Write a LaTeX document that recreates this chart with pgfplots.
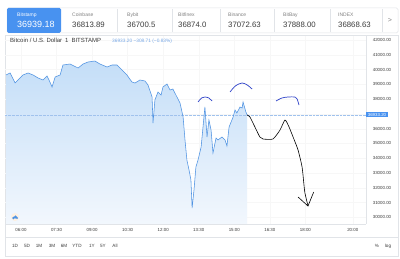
\documentclass[border=0pt]{standalone}
\usepackage{pgfplots}
\pgfplotsset{compat=1.18}
\usepackage{fontspec}
\setmainfont{Liberation Sans}
\definecolor{tabblue}{RGB}{72,146,240}
\definecolor{linecol}{RGB}{78,146,226}
\definecolor{filltop}{RGB}{196,222,248}
\definecolor{fillbot}{RGB}{242,247,253}
\definecolor{arcblue}{RGB}{45,65,200}
\definecolor{valblue}{RGB}{120,168,230}
\definecolor{txtgray}{RGB}{60,60,60}
\definecolor{lightgray}{RGB}{130,130,130}
\definecolor{bordergray}{RGB}{225,228,232}
\newcommand{\fs}[1]{\fontsize{#1}{#1}\selectfont}
\begin{document}
\begin{tikzpicture}[x=1pt,y=1pt]
\useasboundingbox (0,0) rectangle (400,259);
\fill[white] (0,0) rectangle (400,259);
% outer frame
\draw[bordergray, line width=0.5pt] (5,3) rectangle (398,224);
% tabs
\draw[bordergray, line width=0.5pt, rounded corners=1.5] (7,226) rectangle (398,251);
\foreach \xx in {117,172,220,274,330,382} \draw[bordergray, line width=0.5pt] (\xx,227) -- (\xx,250);
\fill[tabblue, rounded corners=1.5] (7,226) rectangle (61,251);
\node[anchor=base west, inner sep=0, text=white, font=\fs{5}] at (17,242) {Bitstamp};
\node[anchor=base west, inner sep=0, text=white, font=\fs{9}] at (17,231) {36939.18};
\foreach \xx/\nm/\val in {72/Coinbase/36813.89, 127/Bybit/36700.5, 178/Bitfinex/36874.0, 228/Binance/37072.63, 283/BitBay/37888.00, 338/INDEX/36868.63}{
  \node[anchor=base west, inner sep=0, text=lightgray, font=\fs{5}] at (\xx,242) {\nm};
  \node[anchor=base west, inner sep=0, text=txtgray, font=\fs{7.8}] at (\xx,231) {\val};
}
\node[text=lightgray, font=\fs{7}, inner sep=0] at (390,238.5) {>};
% bottom toolbar
\draw[bordergray, line width=0.5pt] (5,22) -- (398,22);
\foreach \xx/\nm in {15/1D,27/5D,39/1M,52/3M,64/6M,77/YTD,92/1Y,103/5Y,115/All}
  \node[text=txtgray, font=\fs{4.6}, inner sep=0] at (\xx,13) {\nm};
\node[text=txtgray, font=\fs{4.6}, inner sep=0] at (377,13) {\%};
\node[text=txtgray, font=\fs{4.6}, inner sep=0] at (388,13) {log};
\begin{axis}[
  at={(5pt,35pt)}, anchor=south west,
  scale only axis, width=361pt, height=188pt,
  xmin=5.325, xmax=20.557, ymin=29551, ymax=42271,
  clip=false,
  scaled y ticks=false, scaled x ticks=false,
  axis x line*=bottom, axis y line*=right,
  axis line style={draw=bordergray, line width=0.5pt, -},
  major tick length=0pt,
  grid=major, major grid style={draw=gray!6, line width=0.3pt},
  xtick={6,7.5,9,10.5,12,13.5,15,16.5,18,20},
  xticklabels={06:00,07:30,09:00,10:30,12:00,13:30,15:00,16:30,18:00,20:00},
  xticklabel style={anchor=center, yshift=-6pt, font=\fs{4.4}, text=txtgray},
  ytick={30000,31000,32000,33000,34000,35000,36000,37000,38000,39000,40000,41000,42000},
  yticklabels={30000.00,31000.00,32000.00,33000.00,34000.00,35000.00,36000.00,,38000.00,39000.00,40000.00,41000.00,42000.00},
  yticklabel pos=right,
  yticklabel style={anchor=center, xshift=16pt, font=\fs{4.4}, text=txtgray},
]
% area fill
\addplot[draw=none, top color=filltop, bottom color=fillbot] table {
5.37 39632
5.54 39767
5.75 39091
5.87 39294
6.08 39632
6.30 39767
6.51 39632
6.72 39429
6.93 39294
7.10 39564
7.22 39158
7.31 38820
7.44 39497
7.65 39632
7.77 40308
8.07 40376
8.41 40106
8.62 40376
8.83 40511
9.12 40579
9.33 40376
9.63 40173
9.84 40308
10.05 40308
10.26 39970
10.47 39632
10.68 39158
10.81 39091
11.02 39294
11.23 39226
11.36 38955
11.53 38143
11.57 36384
11.65 37940
11.78 38482
11.91 38279
11.99 38820
12.16 39023
12.29 38617
12.41 38685
12.58 38143
12.71 37737
12.84 36790
12.92 35234
13.00 33881
13.09 33204
13.17 32528
13.22 30633
13.30 31851
13.38 33407
13.47 33881
13.60 34760
13.68 36114
13.76 37467
13.85 35437
13.93 36587
14.02 35911
14.10 34354
14.23 35369
14.31 35234
14.48 35437
14.61 35234
14.69 34828
14.78 36114
14.95 36790
15.03 37264
15.11 37061
15.24 37467
15.33 37399
15.37 37805
15.49 37128
15.54 36925
} \closedcycle;
% price line
\addplot[valblue!70, densely dotted, line width=0.35pt] coordinates {(5.325,36933.2) (20.557,36933.2)};
% main line
\addplot[linecol, line width=0.55pt] table {
5.37 39632
5.54 39767
5.75 39091
5.87 39294
6.08 39632
6.30 39767
6.51 39632
6.72 39429
6.93 39294
7.10 39564
7.22 39158
7.31 38820
7.44 39497
7.65 39632
7.77 40308
8.07 40376
8.41 40106
8.62 40376
8.83 40511
9.12 40579
9.33 40376
9.63 40173
9.84 40308
10.05 40308
10.26 39970
10.47 39632
10.68 39158
10.81 39091
11.02 39294
11.23 39226
11.36 38955
11.53 38143
11.57 36384
11.65 37940
11.78 38482
11.91 38279
11.99 38820
12.16 39023
12.29 38617
12.41 38685
12.58 38143
12.71 37737
12.84 36790
12.92 35234
13.00 33881
13.09 33204
13.17 32528
13.22 30633
13.30 31851
13.38 33407
13.47 33881
13.60 34760
13.68 36114
13.76 37467
13.85 35437
13.93 36587
14.02 35911
14.10 34354
14.23 35369
14.31 35234
14.48 35437
14.61 35234
14.69 34828
14.78 36114
14.95 36790
15.03 37264
15.11 37061
15.24 37467
15.33 37399
15.37 37805
15.49 37128
15.54 36925
};
% hand-drawn projection
\addplot[black, line width=0.6pt, smooth, tension=0.35] coordinates {
(15.54,36925) (15.66,36790) (15.87,36114) (16.08,35437) (16.21,35302) (16.63,35302) (16.93,35911) (17.14,36587) (17.31,36114) (17.48,35437) (17.69,34558) (17.86,33407) (17.94,32189) (17.98,31648) (18.11,30768)};
\addplot[black, line width=0.6pt] coordinates {(17.69,31377) (18.11,30768) (18.35,31716)};
% arcs
\addplot[arcblue, line width=0.7pt, smooth] coordinates {(13.47,37805) (13.62,38080) (13.76,38143) (13.92,38080) (14.06,37873)};
\addplot[arcblue, line width=0.7pt, smooth] coordinates {(14.82,38482) (15.05,38900) (15.33,39091) (15.55,38950) (15.75,38685)};
\addplot[arcblue, line width=0.7pt, smooth] coordinates {(16.76,37873) (17.01,38076) (17.27,38143) (17.56,38143) (17.65,38008) (17.73,37602)};
% price label
\node[fill=tabblue, text=white, font=\fs{4.4}, inner sep=0.9pt, anchor=west] at (axis cs:20.557,36933.2) {\,36933.20\,};
\end{axis}
% subtitle (on top of the plot)
\node[anchor=base west, inner sep=0, text=txtgray, font=\fs{6}] at (10,216) {Bitcoin / U.S. Dollar\enspace 1\enspace BITSTAMP};
\node[anchor=base west, inner sep=0, text=valblue, font=\fs{4.8}] at (112,216) {36933.20 −308.71 (−0.83\%)};
% small logo
\fill[orange!12] (15,42) circle (4);
\fill[linecol] (13.5,41) circle (1.3) (15.5,42) circle (1.7) (17,41) circle (1.2);
\end{tikzpicture}
\end{document}
